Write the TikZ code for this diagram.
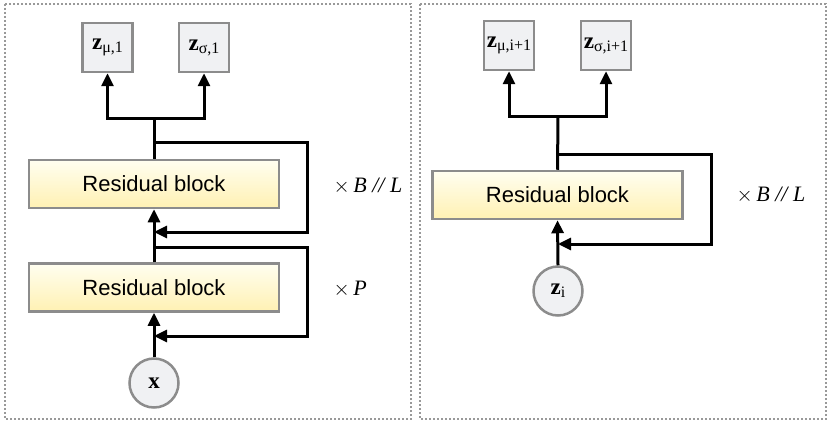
\documentclass[tikz,border=0pt]{standalone}
\usepackage{fontspec}
\setmainfont{Liberation Serif}
\newfontfamily\blockfont{Liberation Sans}
\usetikzlibrary{arrows.meta}

\definecolor{boxfill}{HTML}{F0F1F3}
\definecolor{boxline}{HTML}{8C8C8C}
\definecolor{dotline}{HTML}{999999}
\definecolor{blocktop}{HTML}{FFFEF0}
\definecolor{blockbot}{HTML}{FFF1B3}

\newcommand{\zlab}[1]{{\fontsize{23}{26}\selectfont\textbf{z}}\raisebox{-3pt}{\fontsize{16}{19}\selectfont #1}}

\tikzset{
  panel/.style={draw=dotline, line width=2.2pt, dash pattern=on 2pt off 2pt},
  resblock/.style={draw=boxline, line width=2.5pt, top color=blocktop, bottom color=blockbot,
    minimum width=250pt, minimum height=48pt, inner sep=0pt,
    font=\blockfont\fontsize{22}{26}\selectfont},
  outbox/.style={draw=boxline, line width=2.5pt, fill=boxfill,
    minimum width=50pt, minimum height=49pt, inner sep=0pt},
  invar/.style={circle, draw=boxline, line width=2.5pt, fill=boxfill,
    minimum size=49pt, inner sep=0pt},
  arr/.style={-{Triangle[length=13pt,width=12pt]}, line width=3pt},
  conn/.style={line width=3pt},
  times/.style={anchor=west, font=\fontsize{22}{26}\selectfont}
}

\begin{document}
\begin{tikzpicture}[x=1pt, y=-1pt]
			\useasboundingbox (0,0) rectangle (829,425);

			% Rahmen
			\draw[panel] (5,4) rectangle (411,419);
			\draw[panel] (420,4) rectangle (826,419);

			% links
			\node[outbox] (zmu) at (107.5,47.5) {\zlab{μ,1}};
			\node[outbox] (zsig) at (204,47.5) {\zlab{σ,1}};
			\node[resblock] (rbtop) at (154,184) {Residual block};
			\node[resblock] (rbbot) at (154,287.5) {Residual block};
			\node[invar] (x) at (154,383) {\fontsize{23}{26}\selectfont\textbf{x}};
			\node[times] (repB) at (330,186) {$\times$\,\textit{B // L}};
			\node[times] (repP) at (330,289) {$\times$\,\textit{P}};

			\coordinate (fork) at (154,119);
			\coordinate (split1) at (154,247);
			\coordinate (join1) at (154,336);
			\coordinate (split2) at (154,142);
			\coordinate (join2) at (154,232);

			\draw[arr] (x.north) -- (rbbot.south);
			\draw[arr] (split1) -- ++(153,0) |- (join1);
			\draw[arr] (rbbot.north) -- (rbtop.south);
			\draw[arr] (split2) -- ++(153,0) |- (join2);
			\draw[conn] (rbtop.north) -- (fork);
			\draw[arr] (fork) -| (zmu.south);
			\draw[arr] (fork) -| (zsig.south);

			% rechts
			\node[outbox] (zmui) at (509,45.5) {\zlab{μ,i+1}};
			\node[outbox] (zsigi) at (606,45.5) {\zlab{σ,i+1}};
			\node[resblock] (rbi) at (557.5,195) {Residual block};
			\node[invar] (zi) at (558,291) {\zlab{i}};
			\node[times] (repBi) at (733,195) {$\times$\,\textit{B // L}};

			\coordinate (forki) at (558,117);
			\coordinate (spliti) at (558,154);
			\coordinate (joini) at (558,244);

			\draw[arr] (zi.north) -- (rbi.south);
			\draw[arr] (spliti) -- ++(153,0) |- (joini);
			\draw[conn] (rbi.north) -- (forki);
			\draw[arr] (forki) -| (zmui.south);
			\draw[arr] (forki) -| (zsigi.south);
		\end{tikzpicture}
\end{document}
